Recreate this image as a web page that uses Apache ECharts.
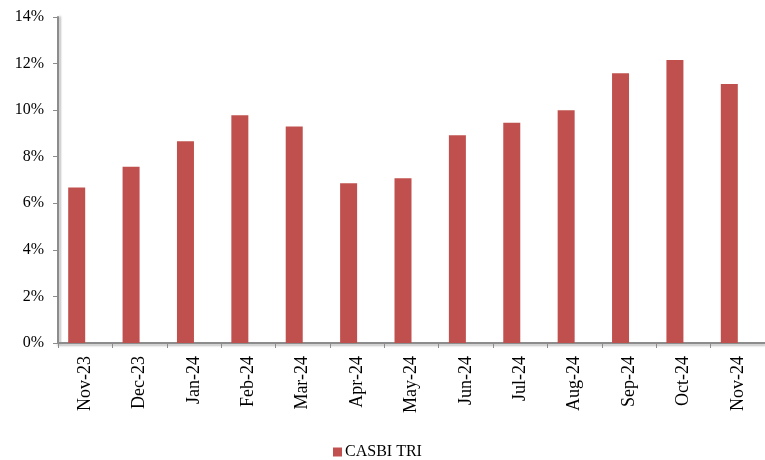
<!DOCTYPE html>
<html>
<head>
<meta charset="utf-8">
<script src="https://cdn.jsdelivr.net/npm/echarts@6/dist/echarts.min.js"></script>
<style>
  html, body { margin: 0; padding: 0; background: #fff; }
  #chart { width: 765px; height: 460px; }
</style>
</head>
<body>
<div id="chart"></div>
<script>
// 月份
var months = ['Nov-23', 'Dec-23', 'Jan-24', 'Feb-24', 'Mar-24', 'Apr-24', 'May-24',
  'Jun-24', 'Jul-24', 'Aug-24', 'Sep-24', 'Oct-24', 'Nov-24']
// CASBI TRI (%)
var casbiTri = [6.68, 7.57, 8.66, 9.78, 9.30, 6.86, 7.08, 8.92, 9.46, 10.0, 11.58, 12.15, 11.12]
var yTicks = { min: 0, max: 14, interval: 2 }

var font = 'Liberation Serif, Times New Roman, serif'
var chart = echarts.init(document.getElementById('chart'))
chart.setOption({
  animation: false,
  grid: { left: 58, right: -7, top: 17, bottom: 117, containLabel: false },
  legend: {
    top: 439,
    left: 328,
    itemWidth: 9,
    itemHeight: 9,
    itemGap: 4,
    icon: 'rect',
    textStyle: { fontFamily: font, fontSize: 16, color: '#000', padding: [0, 0, 0, -2] },
    data: ['CASBI TRI']
  },
  xAxis: {
    type: 'category',
    data: months,
    axisLine: { lineStyle: { color: '#8c8c8c', width: 2, shadowColor: 'rgba(0,0,0,0.25)', shadowOffsetY: 2, shadowBlur: 2 } },
    axisTick: { show: true, length: 5, lineStyle: { color: '#8c8c8c' } },
    axisLabel: { rotate: 90, margin: 13, fontFamily: font, fontSize: 18, color: '#000' }
  },
  yAxis: {
    type: 'value',
    min: yTicks.min,
    max: yTicks.max,
    interval: yTicks.interval,
    splitLine: { show: false },
    axisLine: { show: true, lineStyle: { color: '#8c8c8c', width: 2, shadowColor: 'rgba(0,0,0,0.25)', shadowOffsetX: 2, shadowBlur: 2 } },
    axisTick: { show: true, length: 5, lineStyle: { color: '#8c8c8c' } },
    axisLabel: { margin: 14, fontFamily: font, fontSize: 16, color: '#000', formatter: '{value}%' }
  },
  series: [{
    name: 'CASBI TRI',
    type: 'bar',
    data: casbiTri,
    barWidth: 17,
    barGap: '0%',
    itemStyle: { color: '#c0504d' }
  }, {
    // 空白系列，占位让柱子偏左
    name: 'blank',
    type: 'bar',
    data: months.map(function () { return null }),
    barWidth: 17,
    itemStyle: { color: 'transparent' }
  }]
})
</script>
</body>
</html>
